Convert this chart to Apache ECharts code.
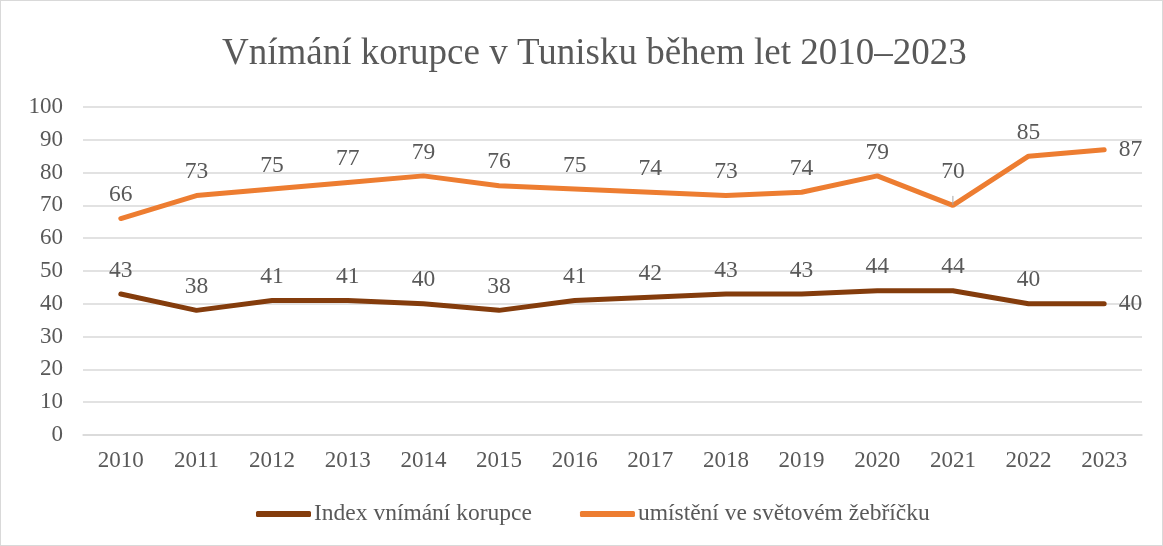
<!DOCTYPE html>
<html>
<head>
    <meta charset="UTF-8">
    <title>Vnímání korupce v Tunisku</title>
    <script src="https://cdn.jsdelivr.net/npm/echarts@6/dist/echarts.min.js"></script>
    <style>
        html, body { margin: 0; padding: 0; background: #fff; }
        #main { width: 1163px; height: 546px; box-sizing: border-box; border: 1px solid #d9d9d9; }
    </style>
</head>
<body>
<div id="main"></div>
<script type="text/javascript">
    // roky na ose x
    var years = ['2010', '2011', '2012', '2013', '2014', '2015', '2016', '2017', '2018', '2019', '2020', '2021', '2022', '2023'];
    // index vnímání korupce
    var indexValues = [43, 38, 41, 41, 40, 38, 41, 42, 43, 43, 44, 44, 40, 40];
    // umístění ve světovém žebříčku
    var rankValues = [66, 73, 75, 77, 79, 76, 75, 74, 73, 74, 79, 70, 85, 87];

    var font = 'Liberation Serif, Times New Roman, serif';
    var textColor = '#595959';

    function buildData(values) {
        return values.map(function (v, i) {
            var item = { value: v };
            if (i === values.length - 1) {
                item.label = { position: 'right', distance: 14 };
            }
            return item;
        });
    }

    var rankData = buildData(rankValues);
    // 70 v roce 2021 je posunuté nahoru s vodicí čárou
    rankData[11].label = { offset: [0, -10] };
    rankData[11].labelLine = { show: true, lineStyle: { color: '#a6a6a6', width: 1 } };

    var chart = echarts.init(document.getElementById('main'));
    var option = {
        animation: false,
        title: {
            text: 'Vnímání korupce v Tunisku během let 2010–2023',
            left: 216,
            top: 30,
            textStyle: { fontFamily: font, fontSize: 37, fontWeight: 'normal', color: textColor }
        },
        legend: {
            bottom: 14,
            left: 250,
            itemWidth: 55,
            itemHeight: 6,
            itemGap: 48,
            icon: 'roundRect',
            textStyle: { fontFamily: font, fontSize: 23.5, color: textColor, padding: [0, 0, 0, -2] },
            data: ['Index vnímání korupce', 'umístění ve světovém žebříčku']
        },
        grid: { left: 82, right: 20, top: 106, bottom: 110 },
        xAxis: {
            type: 'category',
            data: years,
            axisLine: { lineStyle: { color: '#d9d9d9', width: 1.5 } },
            axisTick: { show: false },
            axisLabel: { fontFamily: font, fontSize: 23, color: textColor, margin: 14 }
        },
        yAxis: {
            type: 'value',
            min: 0,
            max: 100,
            interval: 10,
            axisLabel: { fontFamily: font, fontSize: 23, color: textColor, margin: 20 },
            splitLine: { lineStyle: { color: '#d9d9d9', width: 1.5 } }
        },
        series: [
            {
                name: 'Index vnímání korupce',
                type: 'line',
                data: buildData(indexValues),
                symbol: 'circle',
                symbolSize: 1,
                lineStyle: { color: '#843c0c', width: 5, cap: 'round' },
                itemStyle: { color: '#843c0c' },
                label: { show: true, position: 'top', distance: 11, fontFamily: font, fontSize: 23.5, color: textColor }
            },
            {
                name: 'umístění ve světovém žebříčku',
                type: 'line',
                data: rankData,
                symbol: 'circle',
                symbolSize: 1,
                lineStyle: { color: '#ed7d31', width: 5, cap: 'round' },
                itemStyle: { color: '#ed7d31' },
                label: { show: true, position: 'top', distance: 11, fontFamily: font, fontSize: 23.5, color: textColor }
            }
        ]
    };
    chart.setOption(option);
</script>
</body>
</html>
